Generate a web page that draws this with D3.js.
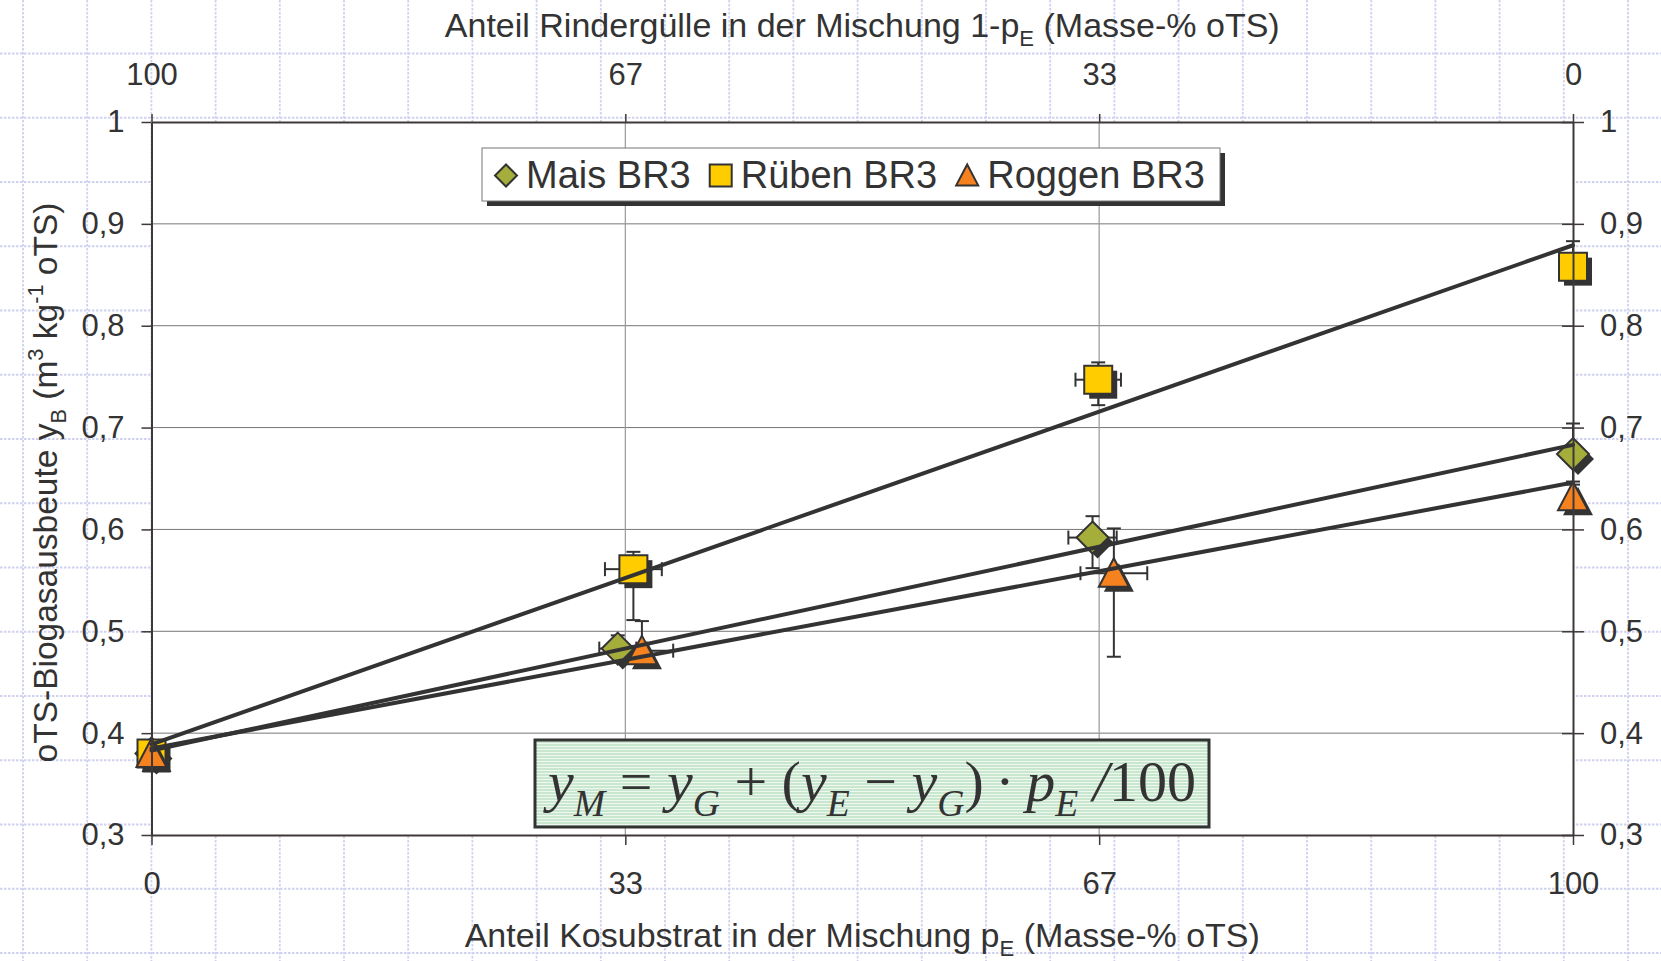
<!DOCTYPE html>
<html>
<head>
<meta charset="utf-8">
<script src="https://cdn.jsdelivr.net/npm/d3@7"></script>
<style>
body { margin: 0; background: #fff; }
svg { display: block; font-family: "Liberation Sans", Arial, sans-serif; }
</style>
</head>
<body>
<svg width="1661" height="961"></svg>
<script>
/* ----------------------------------------------------------
data
---------------------------------------------------------- */

var seriesNames = ["Mais BR3", "Rüben BR3", "Roggen BR3"];
var seriesColors = ["#a5ad3b", "#ffcc00", "#f5821f"];
var seriesShapes = ["diamond", "square", "triangle"];

// Mais BR3
var maisX = [0, 32.8, 66.2, 100];
var maisY = [0.380, 0.483, 0.592, 0.674];
var maisErrUp = [0, 0.013, 0.021, 0.030];
var maisErrDn = [0, 0.013, 0.030, 0.030];
var maisErrX = [0, 1.3, 1.7, 0];

// Rüben BR3
var ruebenX = [0, 33.9, 66.6, 100];
var ruebenY = [0.380, 0.561, 0.747, 0.858];
var ruebenErrUp = [0, 0.017, 0.017, 0.025];
var ruebenErrDn = [0, 0.050, 0.025, 0.010];
var ruebenErrX = [0, 2.0, 1.6, 0];

// Roggen BR3
var roggenX = [0, 34.5, 67.7, 100];
var roggenY = [0.380, 0.481, 0.557, 0.632];
var roggenErrUp = [0, 0.029, 0.044, 0.015];
var roggenErrDn = [0, 0.010, 0.082, 0.015];
var roggenErrX = [0, 2.2, 2.35, 0];

// Mischungsgeraden (Wert bei pE = 0 und pE = 100)
var lineStart = [0.383, 0.389, 0.385];
var lineEnd = [0.683, 0.879, 0.646];

// Achsen
var xTicks = [0, 100 / 3, 200 / 3, 100];
var xTickLabels = ["0", "33", "67", "100"];
var topTickLabels = ["100", "67", "33", "0"];
var yTicks = [0.3, 0.4, 0.5, 0.6, 0.7, 0.8, 0.9, 1.0];
var yTickLabels = ["0,3", "0,4", "0,5", "0,6", "0,7", "0,8", "0,9", "1"];

/* ----------------------------------------------------------
setting
---------------------------------------------------------- */

var W = 1661, H = 961;
var plot = { left: 151.5, right: 1573, top: 122, bottom: 835 };
var ink = "#333";

var svg = d3.select("svg");

var x = d3.scaleLinear().domain([0, 100]).range([plot.left, plot.right]);
var y = d3.scaleLinear().domain([0.3, 1]).range([plot.bottom, plot.top]);

var series = seriesNames.map(function(name, i) {
  var xs = [maisX, ruebenX, roggenX][i];
  var ys = [maisY, ruebenY, roggenY][i];
  var up = [maisErrUp, ruebenErrUp, roggenErrUp][i];
  var dn = [maisErrDn, ruebenErrDn, roggenErrDn][i];
  var ex = [maisErrX, ruebenErrX, roggenErrX][i];
  return {
    name: name, color: seriesColors[i], shape: seriesShapes[i],
    start: lineStart[i], end: lineEnd[i],
    points: xs.map(function(v, j) {
      return { x: v, y: ys[j], up: up[j], dn: dn[j], ex: ex[j] };
    })
  };
});

function shapePath(shape, s) {
  // s = half size
  if (shape == "diamond") return "M0," + (-s) + "L" + s + ",0L0," + s + "L" + (-s) + ",0Z";
  if (shape == "square") return "M" + (-s) + "," + (-s) + "H" + s + "V" + s + "H" + (-s) + "Z";
  return "M0," + (-s) + "L" + s + "," + (s * 0.9) + "H" + (-s) + "Z";
}

// text mit tief-/hochgestellten teilen
function rich(t, parts) {
  var shift = 0;
  parts.forEach(function(p) {
    var target = p.sub ? 0.26 : p.sup ? -0.42 : 0;
    var f = (p.sub || p.sup) ? 0.65 : 1;
    var ts = t.append("tspan").text(p.t);
    if (target - shift != 0) ts.attr("dy", ((target - shift) / f) + "em");
    if (f != 1) ts.attr("font-size", f + "em");
    if (p.it) ts.attr("font-style", "italic");
    shift = target;
  });
  return t;
}

/* ----------------------------------------------------------
hintergrund (karopapier)
---------------------------------------------------------- */

var gPaper = svg.append("g")
  .attr("stroke", "#d0d2ef").attr("stroke-width", 1.8).attr("stroke-dasharray", "2.5,1.5");
var paperX = d3.range(23, W, 64.2);
var paperY = d3.range(696 - 64.25 * 11, H, 64.25);
gPaper.selectAll(".pv").data(paperX).enter().append("line")
  .attr("x1", d => d).attr("x2", d => d).attr("y1", 0).attr("y2", H);
gPaper.selectAll(".ph").data(paperY).enter().append("line")
  .attr("y1", d => d).attr("y2", d => d).attr("x1", 0).attr("x2", W);

/* ----------------------------------------------------------
plotfläche
---------------------------------------------------------- */

svg.append("rect")
  .attr("x", plot.left).attr("y", plot.top)
  .attr("width", plot.right - plot.left).attr("height", plot.bottom - plot.top)
  .attr("fill", "#fff");

// gitterlinien
svg.append("g").selectAll("line").data(yTicks.slice(1, -1)).enter().append("line")
  .attr("x1", plot.left).attr("x2", plot.right)
  .attr("y1", d => y(d)).attr("y2", d => y(d))
  .attr("stroke", "#777").attr("stroke-width", 1);
svg.append("g").selectAll("line").data(xTicks.slice(1, -1)).enter().append("line")
  .attr("y1", plot.top).attr("y2", plot.bottom)
  .attr("x1", d => x(d)).attr("x2", d => x(d))
  .attr("stroke", "#999").attr("stroke-width", 1.2);

/* ----------------------------------------------------------
fehlerbalken, marker, geraden
---------------------------------------------------------- */

var cap = 7;
var gErr = svg.append("g").attr("stroke", ink).attr("stroke-width", 2);
series.forEach(function(s) {
  s.points.forEach(function(p) {
    var px = x(p.x), py = y(p.y);
    if (p.up > 0) {
      gErr.append("line").attr("x1", px).attr("x2", px).attr("y1", py).attr("y2", y(p.y + p.up));
      gErr.append("line").attr("x1", px - cap).attr("x2", px + cap).attr("y1", y(p.y + p.up)).attr("y2", y(p.y + p.up));
    }
    if (p.dn > 0) {
      gErr.append("line").attr("x1", px).attr("x2", px).attr("y1", py).attr("y2", y(p.y - p.dn));
      gErr.append("line").attr("x1", px - cap).attr("x2", px + cap).attr("y1", y(p.y - p.dn)).attr("y2", y(p.y - p.dn));
    }
    if (p.ex > 0) {
      [x(p.x - p.ex), x(p.x + p.ex)].forEach(function(ex) {
        gErr.append("line").attr("x1", px).attr("x2", ex).attr("y1", py).attr("y2", py);
        gErr.append("line").attr("x1", ex).attr("x2", ex).attr("y1", py - cap).attr("y2", py + cap);
      });
    }
  });
});

var markerSize = { diamond: 16, square: 14, triangle: 15 };
series.forEach(function(s) {
  var g = svg.append("g");
  var pts = g.selectAll(".pt").data(s.points).enter().append("g")
    .attr("transform", d => "translate(" + x(d.x) + "," + y(d.y) + ")");
  pts.append("path")
    .attr("d", shapePath(s.shape, markerSize[s.shape]))
    .attr("transform", "translate(5,5)")
    .attr("fill", ink);
  pts.append("path")
    .attr("d", shapePath(s.shape, markerSize[s.shape]))
    .attr("fill", s.color).attr("stroke", ink).attr("stroke-width", 2)
    .attr("stroke-linejoin", "miter");
});

svg.append("g").selectAll("line").data(series).enter().append("line")
  .attr("x1", x(0)).attr("x2", x(100))
  .attr("y1", d => y(d.start)).attr("y2", d => y(d.end))
  .attr("stroke", ink).attr("stroke-width", 4).attr("stroke-linecap", "round");

/* ----------------------------------------------------------
achsen
---------------------------------------------------------- */

function styleAxis(g) {
  g.attr("font-family", null).attr("font-size", 31);
  g.select(".domain").attr("stroke", "#3e3838").attr("stroke-width", 2);
  g.selectAll(".tick line").attr("stroke", "#3e3838").attr("stroke-width", 1.5);
  g.selectAll(".tick text").attr("fill", ink);
}

svg.append("g").attr("transform", "translate(" + plot.left + ",0)")
  .call(d3.axisLeft(y).tickValues(yTicks).tickFormat((d, i) => yTickLabels[i])
    .tickSize(10).tickSizeOuter(0).tickPadding(17))
  .call(styleAxis);

var gRight = svg.append("g").attr("transform", "translate(" + plot.right + ",0)")
  .call(d3.axisRight(y).tickValues(yTicks).tickFormat((d, i) => yTickLabels[i])
    .tickSize(11).tickSizeOuter(0).tickPadding(16))
  .call(styleAxis);
gRight.selectAll(".tick line").attr("x1", -11);

svg.append("g").attr("transform", "translate(0," + plot.bottom + ")")
  .call(d3.axisBottom(x).tickValues(xTicks).tickFormat((d, i) => xTickLabels[i])
    .tickSize(10).tickSizeOuter(0).tickPadding(27))
  .call(styleAxis);

svg.append("g").attr("transform", "translate(0," + plot.top + ")")
  .call(d3.axisTop(x).tickValues(xTicks).tickFormat((d, i) => topTickLabels[i])
    .tickSize(8).tickSizeOuter(0).tickPadding(29))
  .call(styleAxis);

// achsentitel
rich(svg.append("text").attr("x", (plot.left + plot.right) / 2).attr("y", 37)
  .attr("text-anchor", "middle").attr("font-size", 34).attr("fill", ink),
  [{ t: "Anteil Rindergülle in der Mischung 1-p" }, { t: "E", sub: true }, { t: " (Masse-% oTS)" }]);

rich(svg.append("text").attr("x", (plot.left + plot.right) / 2).attr("y", 947)
  .attr("text-anchor", "middle").attr("font-size", 34).attr("fill", ink),
  [{ t: "Anteil Kosubstrat in der Mischung p" }, { t: "E", sub: true }, { t: " (Masse-% oTS)" }]);

rich(svg.append("text").attr("transform", "translate(57," + ((plot.top + plot.bottom) / 2 + 4) + ") rotate(-90)")
  .attr("text-anchor", "middle").attr("font-size", 33.5).attr("fill", ink),
  [{ t: "oTS-Biogasausbeute y" }, { t: "B", sub: true }, { t: " (m" }, { t: "3", sup: true },
   { t: " kg" }, { t: "-1", sup: true }, { t: " oTS)" }]);

/* ----------------------------------------------------------
legende
---------------------------------------------------------- */

var leg = { x: 482, y: 148, w: 738, h: 53 };
var gLeg = svg.append("g");
gLeg.append("rect").attr("x", leg.x + 5).attr("y", leg.y + 5).attr("width", leg.w).attr("height", leg.h).attr("fill", ink);
gLeg.append("rect").attr("x", leg.x).attr("y", leg.y).attr("width", leg.w).attr("height", leg.h)
  .attr("fill", "#fff").attr("stroke", "#777").attr("stroke-width", 1);

var cx = leg.x + 24;
series.forEach(function(s) {
  gLeg.append("path")
    .attr("transform", "translate(" + cx + "," + (leg.y + leg.h / 2 + 1) + ")")
    .attr("d", shapePath(s.shape, 11))
    .attr("fill", s.color).attr("stroke", ink).attr("stroke-width", 2);
  var t = gLeg.append("text").attr("x", cx + 20).attr("y", leg.y + 40)
    .attr("font-size", 38).attr("fill", ink).text(s.name);
  cx += 20 + t.node().getComputedTextLength() + 30;
});

/* ----------------------------------------------------------
formel
---------------------------------------------------------- */

var defs = svg.append("defs");
var pat = defs.append("pattern").attr("id", "stripes").attr("patternUnits", "userSpaceOnUse")
  .attr("width", 8).attr("height", 3);
pat.append("rect").attr("width", 8).attr("height", 3).attr("fill", "#c9e6cf");
pat.append("rect").attr("y", 2).attr("width", 8).attr("height", 1).attr("fill", "#eef8f0");

var box = { x: 535, y: 740, w: 674, h: 87 };
svg.append("rect").attr("x", box.x).attr("y", box.y).attr("width", box.w).attr("height", box.h)
  .attr("fill", "url(#stripes)").attr("stroke", ink).attr("stroke-width", 3);

var formula = svg.append("text").attr("x", box.x + box.w / 2).attr("y", box.y + 61)
  .attr("text-anchor", "middle").attr("font-family", "'Liberation Serif', 'Times New Roman', serif")
  .attr("font-size", 58).attr("fill", ink);
rich(formula, [
  { t: "y", it: true }, { t: "M", sub: true, it: true }, { t: " = " },
  { t: "y", it: true }, { t: "G", sub: true, it: true }, { t: " + (" },
  { t: "y", it: true }, { t: "E", sub: true, it: true }, { t: " − " },
  { t: "y", it: true }, { t: "G", sub: true, it: true }, { t: ")\u2009·\u2009" },
  { t: "p", it: true }, { t: "E", sub: true, it: true }, { t: " /", it: true }, { t: "100" }
]);
</script>
</body>
</html>
